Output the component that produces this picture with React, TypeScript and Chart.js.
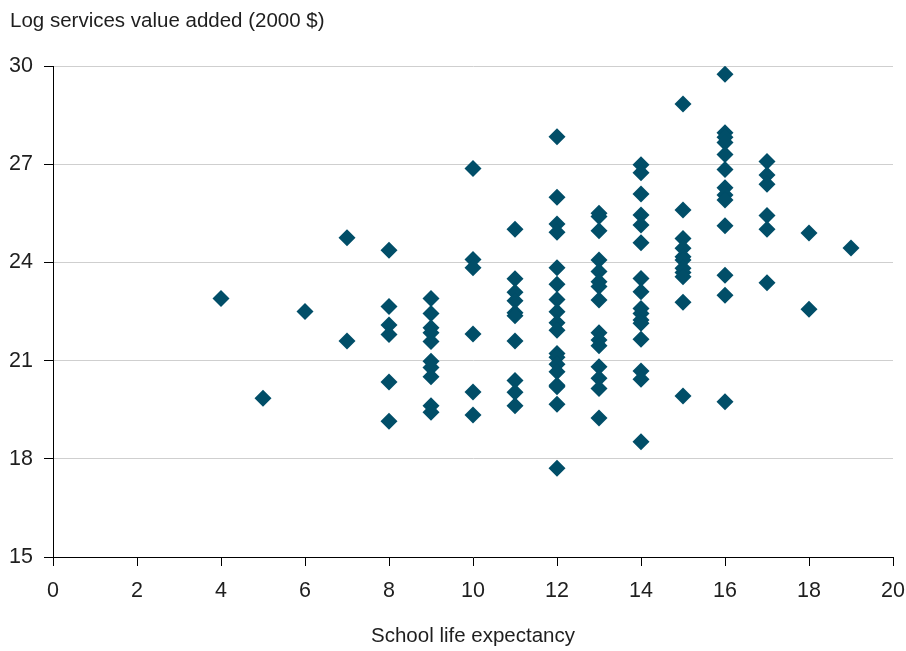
import React, { useEffect, useRef } from "react";
import { Chart, registerables } from "chart.js";

Chart.register(...registerables);

const schoolYears = [4, 5, 6, 7, 8, 9, 10, 11, 12, 13, 14, 15, 16, 17, 18, 19];

const logServices: number[][] = [
  [22.9],
  [19.85],
  [22.5],
  [24.75, 21.6],
  [24.37, 22.65, 22.09, 21.8, 20.35, 19.15],
  [22.9, 22.44, 22.0, 21.85, 21.58, 20.98, 20.79, 20.51, 19.62, 19.42],
  [26.87, 24.09, 23.84, 21.81, 20.04, 19.34],
  [25.01, 23.5, 23.09, 22.83, 22.46, 22.37, 21.6, 20.39, 20.03, 19.62],
  [27.84, 25.99, 25.17, 24.92, 23.84, 23.33, 22.87, 22.49, 22.16, 21.93, 21.22, 21.1, 20.89, 20.66, 20.25, 20.2, 19.67, 17.71],
  [25.5, 25.4, 24.97, 24.07, 23.72, 23.41, 23.26, 22.85, 21.85, 21.63, 21.45, 20.81, 20.46, 20.15, 19.25],
  [26.98, 26.74, 26.09, 25.45, 25.14, 24.6, 23.51, 23.1, 22.59, 22.44, 22.24, 22.14, 21.65, 20.68, 20.43, 18.52],
  [28.84, 25.6, 24.73, 24.43, 24.17, 24.07, 23.82, 23.69, 23.56, 22.78, 19.92],
  [29.75, 27.96, 27.82, 27.66, 27.3, 26.84, 26.28, 26.06, 25.91, 25.12, 23.61, 23.0, 19.74],
  [27.08, 26.67, 26.39, 25.43, 25.01, 23.38],
  [24.9, 22.57],
  [24.44],
];

const xTicks = [0, 2, 4, 6, 8, 10, 12, 14, 16, 18, 20];
const yTicks = [15, 18, 21, 24, 27, 30];

const yTitle = "Log services value added (2000 $)";
const xTitle = "School life expectancy";

export default function App() {
  const ref = useRef<HTMLCanvasElement>(null);

  useEffect(() => {
    document.body.style.margin = "0";
    const points = schoolYears.flatMap((x, i) => logServices[i].map((y) => ({ x, y })));
    const family = "'Liberation Sans Narrow', 'Arial Narrow', 'Liberation Sans', Arial, sans-serif";
    const textColor = "#1e1e1e";
    const markColor = "#014e68";

    const chart = new Chart(ref.current as HTMLCanvasElement, {
      type: "scatter",
      data: {
        datasets: [
          {
            data: points,
            pointStyle: "rectRot",
            pointRadius: 8.5,
            pointHoverRadius: 8.5,
            backgroundColor: markColor,
            borderColor: markColor,
            borderWidth: 0,
          },
        ],
      },
      options: {
        animation: false,
        responsive: false,
        layout: { padding: { left: 10, right: 13, top: 0, bottom: 0 } },
        plugins: {
          legend: { display: false },
          tooltip: { enabled: false },
          title: {
            display: true,
            text: yTitle,
            align: "start",
            color: textColor,
            font: { family, size: 20.5, weight: "normal" },
            padding: { top: 8.7, bottom: 32.7 },
          },
        },
        scales: {
          x: {
            type: "linear",
            min: 0,
            max: 20,
            afterBuildTicks: (s: any) => {
              s.ticks = xTicks.map((v) => ({ value: v }));
            },
            afterFit: (s: any) => {
              s.height = 94;
              s.paddingLeft = 0;
              s.paddingRight = 0;
            },
            grid: { drawOnChartArea: false, drawTicks: true, tickLength: 9, tickColor: "#000" },
            border: { color: "#000", width: 1 },
            ticks: { color: textColor, font: { family, size: 21.5 }, padding: 12, maxRotation: 0 },
            title: {
              display: true,
              text: xTitle,
              color: textColor,
              font: { family, size: 20.5 },
              padding: { top: 0, bottom: 2.7 },
            },
          },
          y: {
            type: "linear",
            min: 15,
            max: 30,
            afterBuildTicks: (s: any) => {
              s.ticks = yTicks.map((v) => ({ value: v }));
            },
            afterFit: (s: any) => {
              s.width = 43;
            },
            grid: {
              color: (ctx: any) => (ctx.tick && ctx.tick.value === 15 ? "rgba(0,0,0,0)" : "#cfcfcf"),
              tickColor: "#000",
              tickLength: 9,
              lineWidth: 1,
            },
            border: { color: "#000", width: 1 },
            ticks: { color: textColor, font: { family, size: 21.5 }, padding: 11 },
          },
        },
      },
    });
    return () => chart.destroy();
  }, []);

  return <canvas ref={ref} width={906} height={651} style={{ display: "block" }} />;
}
